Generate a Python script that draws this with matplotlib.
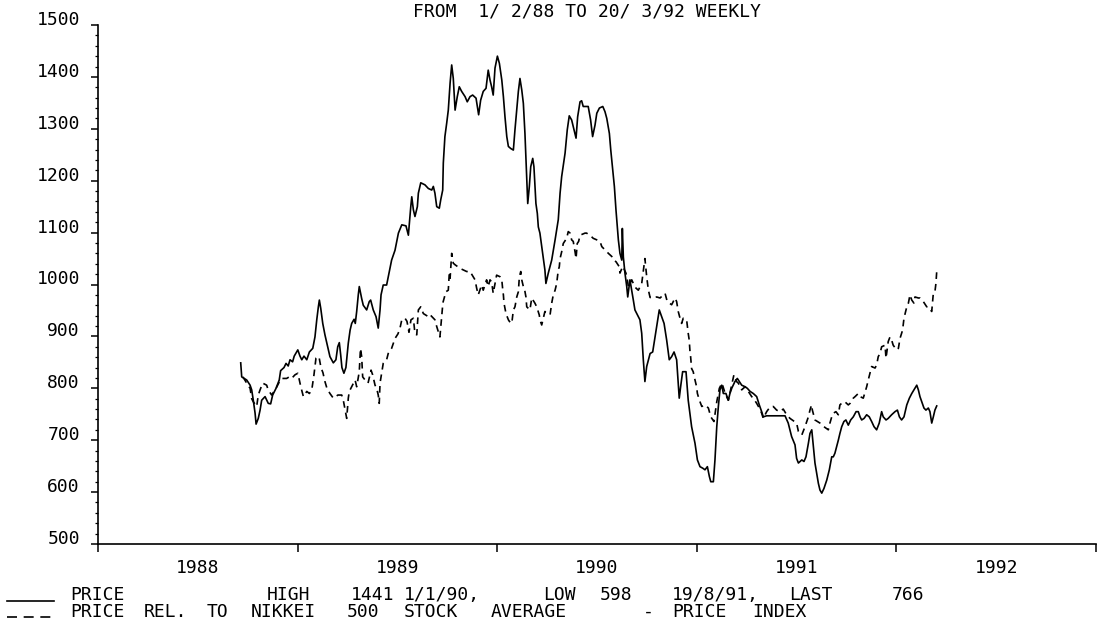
import matplotlib
matplotlib.use('Agg')
import matplotlib.pyplot as plt
from matplotlib.lines import Line2D
import numpy as np

############### DATA (weekly) ###############
price_yr = [1988.715, 1988.720, 1988.745, 1988.762, 1988.770, 1988.778, 1988.787, 1988.792, 1988.803, 1988.812,
            1988.820, 1988.837, 1988.853, 1988.865, 1988.875, 1988.892, 1988.908, 1988.915, 1988.932, 1988.942,
            1988.953, 1988.962, 1988.975, 1988.983, 1989.001, 1989.012, 1989.021, 1989.032, 1989.046, 1989.059,
            1989.076, 1989.087, 1989.096, 1989.104, 1989.109, 1989.116, 1989.126, 1989.137, 1989.149, 1989.162,
            1989.179, 1989.192, 1989.201, 1989.209, 1989.216, 1989.222, 1989.232, 1989.242, 1989.254, 1989.263,
            1989.271, 1989.283, 1989.289, 1989.296, 1989.304, 1989.309, 1989.321, 1989.329, 1989.346, 1989.359,
            1989.366, 1989.379, 1989.393, 1989.404, 1989.413, 1989.418, 1989.429, 1989.446, 1989.471, 1989.488,
            1989.505, 1989.522, 1989.543, 1989.555, 1989.567, 1989.572, 1989.580, 1989.588, 1989.600, 1989.605,
            1989.617, 1989.638, 1989.655, 1989.672, 1989.680, 1989.688, 1989.697, 1989.710, 1989.717, 1989.727,
            1989.730, 1989.738, 1989.747, 1989.755, 1989.764, 1989.772, 1989.780, 1989.789, 1989.800, 1989.810,
            1989.822, 1989.839, 1989.850, 1989.864, 1989.877, 1989.894, 1989.907, 1989.917, 1989.930, 1989.944,
            1989.955, 1989.964, 1989.972, 1989.980, 1989.989, 1990.001, 1990.011, 1990.023, 1990.031, 1990.039,
            1990.048, 1990.056, 1990.068, 1990.081, 1990.089, 1990.098, 1990.106, 1990.114, 1990.123, 1990.131,
            1990.139, 1990.148, 1990.153, 1990.161, 1990.168, 1990.178, 1990.184, 1990.194, 1990.201, 1990.206,
            1990.214, 1990.228, 1990.239, 1990.244, 1990.256, 1990.273, 1990.290, 1990.306, 1990.315, 1990.323,
            1990.340, 1990.351, 1990.361, 1990.373, 1990.385, 1990.395, 1990.403, 1990.415, 1990.423, 1990.431,
            1990.456, 1990.468, 1990.478, 1990.490, 1990.499, 1990.512, 1990.529, 1990.540, 1990.549, 1990.562,
            1990.569, 1990.579, 1990.587, 1990.595, 1990.602, 1990.607, 1990.615, 1990.624, 1990.627, 1990.632,
            1990.640, 1990.649, 1990.654, 1990.665, 1990.674, 1990.682, 1990.690, 1990.699, 1990.715, 1990.724,
            1990.732, 1990.740, 1990.749, 1990.766, 1990.779, 1990.791, 1990.802, 1990.812, 1990.824, 1990.836,
            1990.849, 1990.862, 1990.874, 1990.886, 1990.899, 1990.907, 1990.912, 1990.919, 1990.929, 1990.946,
            1990.957, 1990.974, 1990.991, 1991.003, 1991.016, 1991.030, 1991.041, 1991.053, 1991.063, 1991.070,
            1991.083, 1991.091, 1991.100, 1991.108, 1991.116, 1991.125, 1991.133, 1991.146, 1991.158, 1991.166,
            1991.175, 1991.191, 1991.203, 1991.225, 1991.242, 1991.253, 1991.267, 1991.283, 1991.300, 1991.313,
            1991.325, 1991.333, 1991.350, 1991.442, 1991.458, 1991.475, 1991.492, 1991.500, 1991.509, 1991.526,
            1991.537, 1991.547, 1991.559, 1991.567, 1991.576, 1991.584, 1991.592, 1991.601, 1991.609, 1991.617,
            1991.626, 1991.637, 1991.651, 1991.664, 1991.676, 1991.684, 1991.692, 1991.701, 1991.709, 1991.717,
            1991.726, 1991.737, 1991.747, 1991.759, 1991.771, 1991.784, 1991.798, 1991.809, 1991.818, 1991.826,
            1991.838, 1991.851, 1991.864, 1991.876, 1991.888, 1991.901, 1991.914, 1991.926, 1991.934, 1991.948,
            1991.959, 1991.976, 1991.993, 1992.005, 1992.015, 1992.026, 1992.038, 1992.052, 1992.065, 1992.077,
            1992.088, 1992.102, 1992.110, 1992.118, 1992.127, 1992.138, 1992.148, 1992.160, 1992.168, 1992.177,
            1992.185, 1992.193, 1992.202]
price_val = [849, 822, 816, 806, 797, 777, 752, 731, 742, 758,
             777, 784, 771, 770, 787, 800, 816, 834, 840, 848,
             843, 855, 851, 862, 874, 862, 855, 862, 855, 870,
             877, 899, 932, 957, 970, 954, 925, 903, 883, 861,
             849, 855, 880, 888, 864, 840, 829, 840, 887, 912,
             925, 933, 925, 948, 980, 996, 973, 960, 951, 967,
             970, 951, 938, 916, 951, 980, 999, 999, 1047, 1066,
             1099, 1115, 1113, 1095, 1150, 1169, 1144, 1131, 1150, 1176,
             1196, 1192, 1185, 1182, 1189, 1176, 1150, 1147, 1163, 1182,
             1234, 1285, 1311, 1336, 1388, 1423, 1397, 1336, 1362, 1381,
             1372, 1362, 1352, 1362, 1365, 1359, 1327, 1355, 1372, 1378,
             1413, 1394, 1381, 1365, 1417, 1440, 1426, 1394, 1362, 1323,
             1285, 1266, 1262, 1259, 1298, 1336, 1372, 1397, 1375, 1349,
             1291, 1201, 1156, 1189, 1227, 1243, 1227, 1156, 1137, 1111,
             1099, 1060, 1028, 1002, 1022, 1047, 1086, 1125, 1176, 1208,
             1253, 1298, 1325, 1317, 1298, 1282, 1323, 1352, 1354, 1343,
             1343, 1317, 1285, 1307, 1330, 1340, 1343, 1333, 1320, 1291,
             1259, 1221, 1189, 1144, 1111, 1086, 1060, 1047, 1108, 1053,
             1022, 996, 976, 1009, 989, 970, 951, 944, 932, 906,
             855, 813, 842, 867, 870, 899, 925, 951, 938, 925,
             893, 855, 861, 870, 855, 810, 781, 803, 832, 832,
             777, 726, 694, 662, 649, 646, 643, 649, 630, 620,
             620, 662, 726, 765, 797, 806, 790, 790, 777, 790,
             800, 813, 819, 806, 803, 800, 794, 790, 784, 768,
             755, 745, 747, 747, 733, 707, 691, 665, 656, 662,
             659, 668, 694, 713, 720, 688, 656, 636, 617, 604,
             598, 607, 623, 643, 668, 668, 675, 688, 700, 713,
             726, 736, 739, 729, 739, 745, 755, 755, 745, 739,
             742, 749, 745, 736, 726, 720, 733, 755, 745, 739,
             742, 749, 755, 758, 745, 739, 745, 768, 781, 790,
             797, 806, 797, 784, 774, 762, 758, 762, 755, 733,
             745, 758, 766]

rel_yr = [1988.726, 1988.745, 1988.762, 1988.770, 1988.778, 1988.795, 1988.803, 1988.812, 1988.825, 1988.845,
          1988.850, 1988.858, 1988.870, 1988.892, 1988.908, 1988.920, 1988.945, 1988.958, 1988.970, 1988.987,
          1989.001, 1989.007, 1989.016, 1989.029, 1989.046, 1989.059, 1989.071, 1989.082, 1989.092, 1989.107,
          1989.117, 1989.127, 1989.137, 1989.147, 1989.162, 1989.179, 1989.202, 1989.221, 1989.229, 1989.237,
          1989.246, 1989.254, 1989.259, 1989.271, 1989.288, 1989.296, 1989.309, 1989.315, 1989.321, 1989.326,
          1989.338, 1989.353, 1989.368, 1989.376, 1989.388, 1989.396, 1989.404, 1989.409, 1989.413, 1989.421,
          1989.429, 1989.446, 1989.454, 1989.471, 1989.488, 1989.503, 1989.513, 1989.522, 1989.538, 1989.548,
          1989.558, 1989.568, 1989.580, 1989.588, 1989.597, 1989.605, 1989.617, 1989.630, 1989.655, 1989.663,
          1989.688, 1989.697, 1989.713, 1989.722, 1989.728, 1989.743, 1989.755, 1989.760, 1989.764, 1989.772,
          1989.780, 1989.789, 1989.814, 1989.830, 1989.847, 1989.864, 1989.880, 1989.889, 1989.897, 1989.905,
          1989.922, 1989.930, 1989.947, 1989.955, 1989.964, 1989.972, 1989.980, 1989.997, 1990.014, 1990.023,
          1990.028, 1990.031, 1990.034, 1990.044, 1990.056, 1990.061, 1990.073, 1990.081, 1990.089, 1990.098,
          1990.106, 1990.111, 1990.118, 1990.123, 1990.131, 1990.136, 1990.144, 1990.148, 1990.164, 1990.173,
          1990.189, 1990.198, 1990.211, 1990.214, 1990.223, 1990.239, 1990.265, 1990.273, 1990.281, 1990.290,
          1990.298, 1990.306, 1990.311, 1990.315, 1990.323, 1990.331, 1990.348, 1990.356, 1990.365, 1990.373,
          1990.381, 1990.390, 1990.395, 1990.401, 1990.408, 1990.415, 1990.440, 1990.448, 1990.473, 1990.481,
          1990.499, 1990.515, 1990.524, 1990.549, 1990.557, 1990.574, 1990.582, 1990.595, 1990.612, 1990.615,
          1990.629, 1990.645, 1990.652, 1990.657, 1990.674, 1990.690, 1990.707, 1990.724, 1990.740, 1990.749,
          1990.757, 1990.766, 1990.782, 1990.799, 1990.816, 1990.832, 1990.841, 1990.852, 1990.874, 1990.891,
          1990.899, 1990.907, 1990.916, 1990.924, 1990.932, 1990.949, 1990.957, 1990.962, 1990.966, 1990.969,
          1990.974, 1990.982, 1990.991, 1990.999, 1991.003, 1991.013, 1991.025, 1991.041, 1991.058, 1991.070,
          1991.086, 1991.100, 1991.113, 1991.126, 1991.142, 1991.158, 1991.171, 1991.186, 1991.199, 1991.208,
          1991.225, 1991.242, 1991.258, 1991.275, 1991.283, 1991.300, 1991.313, 1991.325, 1991.333, 1991.350,
          1991.367, 1991.383, 1991.400, 1991.417, 1991.433, 1991.450, 1991.467, 1991.500, 1991.509, 1991.526,
          1991.542, 1991.559, 1991.567, 1991.575, 1991.579, 1991.592, 1991.617, 1991.626, 1991.659, 1991.667,
          1991.676, 1991.684, 1991.697, 1991.709, 1991.717, 1991.734, 1991.742, 1991.759, 1991.768, 1991.784,
          1991.793, 1991.809, 1991.818, 1991.834, 1991.851, 1991.859, 1991.876, 1991.893, 1991.901, 1991.909,
          1991.918, 1991.926, 1991.943, 1991.948, 1991.959, 1991.968, 1991.976, 1991.984, 1992.001, 1992.010,
          1992.018, 1992.031, 1992.038, 1992.052, 1992.060, 1992.068, 1992.077, 1992.088, 1992.093, 1992.110,
          1992.118, 1992.135, 1992.152, 1992.160, 1992.177, 1992.185, 1992.193, 1992.198, 1992.202]
rel_val = [822, 810, 800, 780, 774, 765, 787, 797, 810, 806,
           800, 794, 787, 800, 812, 819, 819, 822, 819, 826,
           829, 819, 803, 784, 794, 790, 797, 826, 858, 861,
           840, 830, 813, 800, 790, 781, 787, 787, 777, 760,
           742, 781, 794, 803, 816, 803, 832, 877, 861, 822,
           816, 810, 835, 826, 806, 800, 787, 771, 810, 829,
           848, 855, 867, 877, 896, 905, 916, 932, 935, 929,
           908, 932, 935, 905, 903, 951, 957, 944, 938, 942,
           932, 919, 899, 938, 965, 986, 989, 1022, 1012, 1060,
           1041, 1038, 1031, 1028, 1025, 1025, 1015, 1009, 993, 980,
           999, 989, 1009, 996, 1009, 1005, 983, 1018, 1015, 1009,
           989, 980, 964, 944, 932, 929, 925, 951, 957, 976,
           986, 1015, 1025, 1009, 996, 993, 976, 957, 951, 974,
           964, 957, 941, 932, 922, 948, 942, 964, 980, 989,
           1002, 1028, 1034, 1050, 1063, 1079, 1089, 1102, 1099, 1086,
           1083, 1063, 1050, 1079, 1083, 1095, 1099, 1099, 1092, 1089,
           1086, 1083, 1073, 1063, 1060, 1054, 1047, 1044, 1034, 1022,
           1035, 1022, 1009, 996, 1009, 995, 989, 1002, 1050, 1015,
           990, 975, 974, 976, 974, 980, 983, 967, 961, 974,
           967, 948, 935, 925, 935, 932, 906, 893, 870, 861,
           838, 832, 816, 803, 790, 777, 765, 768, 762, 745,
           736, 774, 800, 810, 790, 777, 800, 826, 813, 810,
           797, 803, 794, 784, 781, 771, 762, 752, 742, 755,
           764, 765, 758, 755, 760, 749, 742, 733, 717, 710,
           726, 745, 758, 768, 758, 739, 733, 729, 720, 733,
           745, 752, 755, 749, 768, 774, 774, 768, 771, 781,
           784, 790, 784, 781, 803, 816, 842, 839, 845, 861,
           867, 880, 883, 858, 890, 899, 893, 883, 874, 877,
           896, 912, 935, 957, 964, 980, 970, 964, 976, 974,
           974, 967, 957, 957, 948, 983, 986, 1002, 1025]

year_labels = ['1988', '1989', '1990', '1991', '1992']
y_major = list(range(500, 1501, 100))

title_text = 'FROM  1/ 2/88 TO 20/ 3/92 WEEKLY'
legend_row1 = ['PRICE', 'HIGH', '1441', '1/1/90,', 'LOW', '598', '19/8/91,', 'LAST', '766']
legend_row2 = ['PRICE', 'REL.', 'TO', 'NIKKEI', '500', 'STOCK', 'AVERAGE', '-', 'PRICE', 'INDEX']

############### CREATE PLOT ###############
plt.rcParams['font.family'] = ['DejaVu Sans Mono']
FS = 13
W, H = 1098, 620
fig = plt.figure(figsize=(W / 100, H / 100), dpi=100)
ax = fig.add_axes([98 / W, 1 - 544 / H, (1096 - 98) / W, (544 - 25) / H])

ax.plot(price_yr, price_val, color='black', lw=1.2)
ax.plot(rel_yr, rel_val, color='black', lw=1.2, ls=(0, (4, 3)))

ax.set_xlim(1988, 1993)
ax.set_ylim(500, 1500)
for s in ['top', 'right']:
    ax.spines[s].set_visible(False)
for s in ['left', 'bottom']:
    ax.spines[s].set_linewidth(1.2)

# years: ticks at the year boundaries, labels in the middle of each year
ax.set_xticks(range(1988, 1994))
ax.set_xticklabels([])
ax.set_xticks([int(y) + 0.5 for y in year_labels], minor=True)
ax.set_xticklabels(year_labels, minor=True)
ax.tick_params(axis='x', which='major', direction='out', length=6, width=1.1)
ax.tick_params(axis='x', which='minor', length=0, pad=11, labelsize=FS)

ax.set_yticks(y_major)
ax.set_yticks(np.arange(500, 1501, 20), minor=True)
ax.tick_params(axis='y', which='major', direction='out', length=5, width=1.1, pad=8, labelsize=FS)
ax.tick_params(axis='y', which='minor', direction='out', length=2.5, width=0.9)
for lab in ax.get_yticklabels():
    lab.set_verticalalignment('baseline')

fig.text(587 / W, 1 - 12 / H, title_text, ha='center', va='center', fontsize=FS)

# bottom legend: line samples, then the words where the plotter put them
fig.add_artist(Line2D([7 / W, 54 / W], [1 - 601 / H, 1 - 601 / H], color='black', lw=1.2))
fig.add_artist(Line2D([7 / W, 54 / W], [1 - 617 / H, 1 - 617 / H], color='black', lw=1.2, ls=(0, (6, 4))))
row1_x = [70, 267, 351, 404, 543, 600, 672, 789, 892]
row2_x = [70, 144, 207, 251, 347, 404, 491, 643, 672, 752]
for word, x in zip(legend_row1, row1_x):
    fig.text(x / W, 1 - 595 / H, word, ha='left', va='center', fontsize=FS)
for word, x in zip(legend_row2, row2_x):
    fig.text(x / W, 1 - 612 / H, word, ha='left', va='center', fontsize=FS)

fig.savefig('out.png', dpi=100)
